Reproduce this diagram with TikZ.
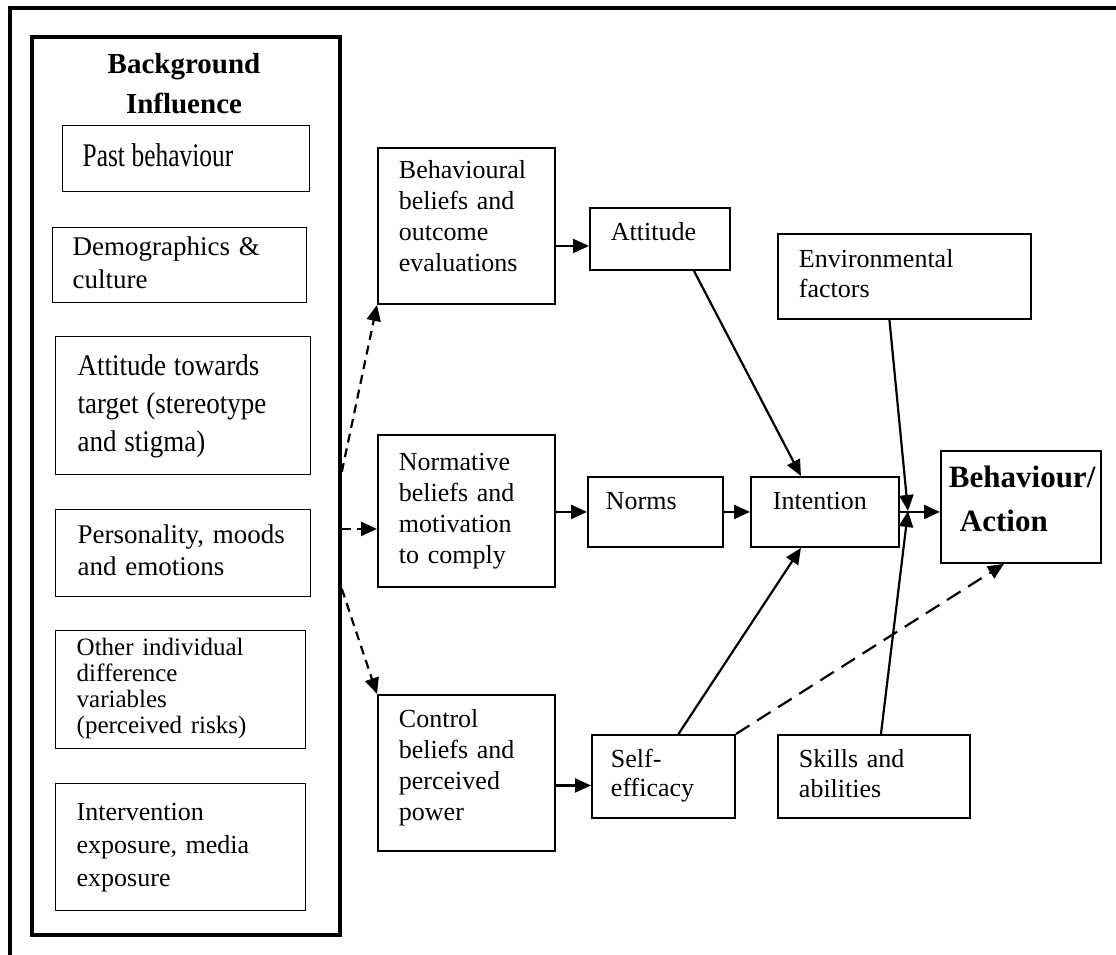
\documentclass[tikz,border=0pt]{standalone}
\usepackage{fontspec}
\setmainfont{Liberation Serif}
\usepackage{graphicx}
\usetikzlibrary{arrows.meta,calc}

\newcommand\fs[2]{\fontsize{#1}{#2}\selectfont}
\newcommand\rows[1]{\begin{tabular}{@{}l@{}}#1\end{tabular}}
\newcommand\lift[2]{\raisebox{#1}[\height][\depth]{\rows{#2}}}

% framed text box: [style]{name}{left}{top}{width}{height}{padding}{text}
\newcommand\bx[8][box]{%
  \node[#1, anchor=north west, minimum width=#5pt, minimum height=#6pt,
        inner xsep=#7pt, text width=\fpeval{#5-2*#7}pt] (#2) at (#3,#4) {#8};}

\tikzset{
  box/.style={draw, line width=1.9pt, inner ysep=0pt, align=left, font=\fs{26}{31}},
  lbox/.style={box, line width=1.4pt},
  bgbox/.style={draw, line width=3.8pt, inner sep=0pt},
  frame/.style={line width=3.2pt},
  tip/.style={-{Triangle[length=16pt,width=14pt]}},
  arr/.style={tip, line width=2.2pt},
  dsh/.style={tip, line width=2.2pt, dash pattern=on 9pt off 6pt},
  ldsh/.style={tip, line width=2.2pt, dash pattern=on 16pt off 9pt},
}

\begin{document}
\begin{tikzpicture}[x=1pt, y=-1pt]
\useasboundingbox (0,0) rectangle (1116,955);

% outer frame
\draw[frame] (10,955) -- (10,8) -- (1116,8);

% background influences
\node[bgbox, anchor=north west, minimum width=308pt, minimum height=898pt] (bg) at (30,35) {};
\node[font=\fs{29}{40}\bfseries] (bgt) at (184,86) {\begin{tabular}{@{}c@{}}Background\\Influence\end{tabular}};

\bx[lbox]{past}{62}{125}{247}{66}{20}{\scalebox{0.77}[1]{\fs{33}{38}\rows{Past behaviour}}}
\bx[lbox]{demo}{52}{227}{254}{75}{20}{\fs{27}{33}\rows{Demographics \&\\culture}}
\bx[lbox]{attd}{55}{336}{255}{138}{22}{\scalebox{0.9}[1]{\fs{30}{38}\rows{Attitude towards\\target (stereotype\\and stigma)}}}
\bx[lbox]{pers}{55}{509}{255}{87}{22}{\fs{27}{32}\rows{Personality, moods\\and emotions}}
\bx[lbox]{oth}{55}{630}{250}{118}{21}{\fs{25}{26}\rows{Other individual\\difference\\variables\\(perceived risks)}}
\bx[lbox]{intv}{55}{783}{250}{127}{21}{\fs{26}{33}\rows{Intervention\\exposure, media\\exposure}}

% beliefs
\bx{beh}{377}{147}{177}{156}{21}{\lift{7pt}{Behavioural\\beliefs and\\outcome\\evaluations}}
\bx{nor}{377}{434}{177}{152}{21}{\rows{Normative\\beliefs and\\motivation\\to comply}}
\bx{ctl}{377}{694}{177}{156}{21}{\lift{5pt}{Control\\beliefs and\\perceived\\power}}

% determinants
\bx{att}{589}{207}{140}{62}{21}{\lift{5pt}{Attitude}}
\bx{nrm}{587}{476}{135}{70}{18}{\lift{9pt}{Norms}}
\bx{slf}{591}{734}{143}{83}{19}{\fs{26}{29}\rows{Self-\\efficacy}}
\bx{int}{750}{476}{148}{70}{22}{\lift{9pt}{Intention}}
\bx{env}{777}{233}{253}{85}{21}{\fs{26}{30}\rows{Environmental\\factors}}
\bx{skl}{777}{734}{192}{83}{21}{\fs{26}{30}\rows{Skills and\\abilities}}
\bx{act}{940}{450}{160}{112}{8}{\fs{31}{44}\bfseries\lift{6pt}{Behaviour/\\\hspace*{11pt}Action}}

\coordinate (jn) at (908,511);

% connectors
\draw[dsh] ([yshift=14pt]bg.east) -- (beh.south west);
\draw[dsh] ([yshift=-18pt]nor.west -| bg.east) -- ([yshift=-18pt]nor.west);
\draw[dsh] ([yshift=-103pt]bg.east) -- (ctl.north west);

\draw[arr] ([yshift=-7pt]att.west -| beh.east) -- ([yshift=-7pt]att.west);
\draw[arr] (nrm.west -| nor.east) -- (nrm.west);
\draw[arr] ([yshift=-9pt]slf.west -| ctl.east) -- ([yshift=-9pt]slf.west);
\draw[arr] (nrm.east) -- (int.west);
\draw[arr] (int.east) -- (int.east -| act.west);
\draw[arr] ([xshift=34pt]att.south) -- ([xshift=-24pt]int.north);
\draw[arr] ([xshift=15pt]slf.north) -- ([xshift=-24pt]int.south);
\draw[arr] ([xshift=-15pt]env.south) -- (jn);
\draw[arr] ([xshift=7pt]skl.north) -- (jn);
\draw[ldsh] (slf.north east) -- ([xshift=-17pt]act.south);
\end{tikzpicture}
\end{document}
